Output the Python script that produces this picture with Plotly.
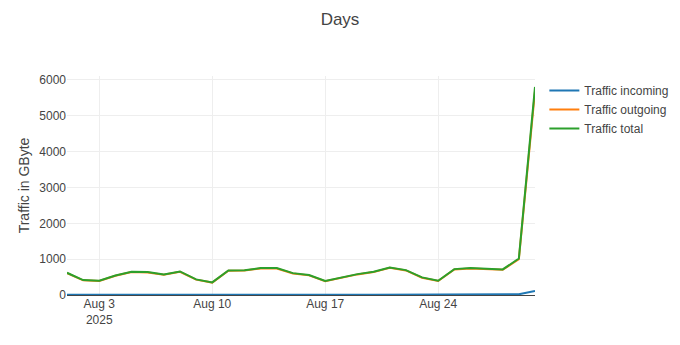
import plotly.graph_objects as go

dates = [f"2025-08-{d:02d}" for d in range(1, 31)]
traffic_total = [620, 417, 398, 546, 648, 639, 574, 657, 435, 352,
                 685, 694, 750, 750, 610, 556, 389, 491, 583, 648,
                 769, 694, 491, 398, 722, 750, 731, 713, 1018, 5805]
traffic_incoming = [8, 7, 7, 8, 9, 9, 8, 9, 7, 6,
                    9, 9, 10, 10, 9, 8, 7, 8, 8, 9,
                    10, 9, 8, 7, 9, 10, 10, 9, 20, 115]
traffic_outgoing = [t - i for t, i in zip(traffic_total, traffic_incoming)]

fig = go.Figure()
fig.add_trace(go.Scatter(x=dates, y=traffic_incoming, mode="lines", name="Traffic incoming",
                         line=dict(color="#1f77b4", width=2)))
fig.add_trace(go.Scatter(x=dates, y=traffic_outgoing, mode="lines", name="Traffic outgoing",
                         line=dict(color="#ff7f0e", width=2)))
fig.add_trace(go.Scatter(x=dates, y=traffic_total, mode="lines", name="Traffic total",
                         line=dict(color="#2ca02c", width=2)))

fig.update_layout(
    width=680, height=345,
    font=dict(family="Liberation Sans, Arial, sans-serif", size=12, color="#444"),
    title=dict(text="Days", x=0.5, xanchor="center", y=1 - 19 / 345, yanchor="middle",
               font=dict(size=17)),
    margin=dict(l=67, r=145, t=76, b=50, autoexpand=False),
    plot_bgcolor="white", paper_bgcolor="white",
    legend=dict(font=dict(size=12), x=1.02, y=1),
    xaxis=dict(showgrid=True, gridcolor="#eee", linecolor="#444", showline=False),
    yaxis=dict(title=dict(text="Traffic in GByte", font=dict(size=14), standoff=6),
               automargin=True, showgrid=True,
               gridcolor="#eee", rangemode="tozero", zeroline=True, zerolinecolor="#444",
               zerolinewidth=1),
)

fig.write_html("out.html")
